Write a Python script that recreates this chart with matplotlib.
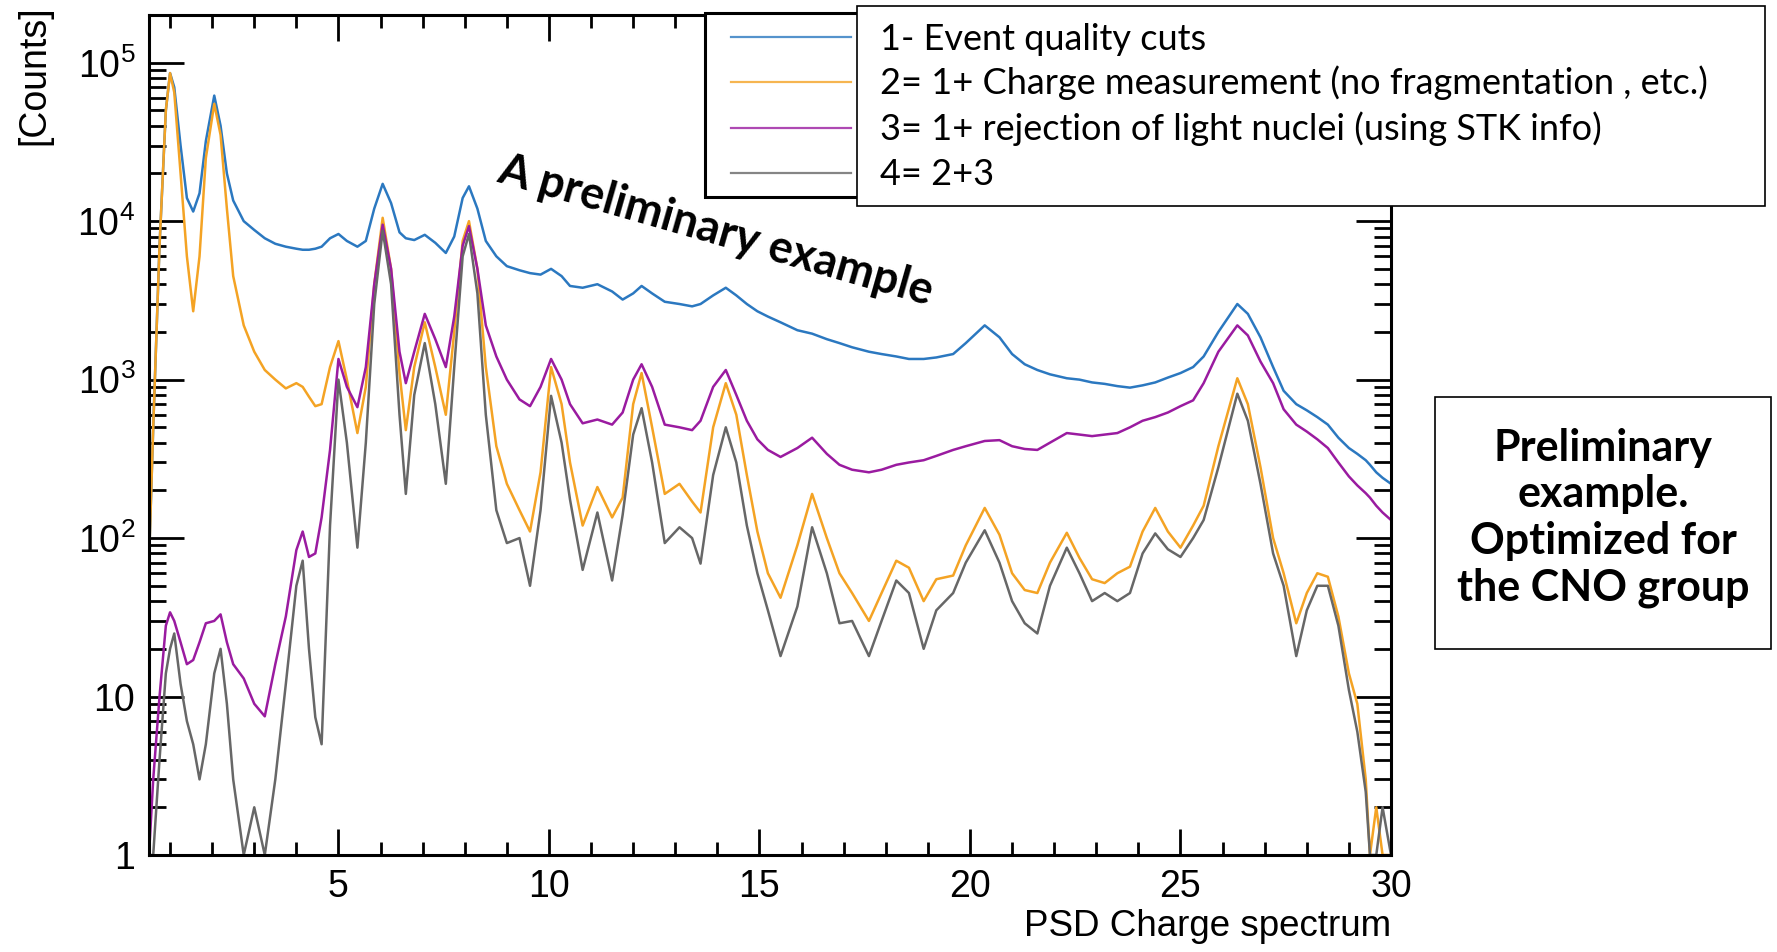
import numpy as np
import matplotlib.pyplot as plt
from matplotlib.patches import Rectangle
from matplotlib.lines import Line2D
from matplotlib.ticker import LogLocator, MultipleLocator, NullFormatter

plt.rcParams['font.family'] = ['Liberation Sans', 'DejaVu Sans']
plt.rcParams['mathtext.fontset'] = 'custom'
plt.rcParams['mathtext.rm'] = 'Liberation Sans'

# PSD charge (x) and counts, one value per node
charge = [0.5, 0.6, 0.75, 0.9, 1.0, 1.1, 1.25, 1.4, 1.55, 1.7,
          1.85, 2.05, 2.2, 2.35, 2.5, 2.75, 3.0, 3.25, 3.5, 3.75,
          4.0, 4.15, 4.3, 4.45, 4.6, 4.8, 5.0, 5.2, 5.45, 5.65,
          5.85, 6.05, 6.25, 6.45, 6.6, 6.8, 7.05, 7.3, 7.55, 7.75,
          7.95, 8.1, 8.3, 8.5, 8.75, 9.0, 9.3, 9.55, 9.8, 10.05,
          10.3, 10.5, 10.8, 11.15, 11.5, 11.75, 12.0, 12.2, 12.45, 12.75,
          13.1, 13.4, 13.6, 13.9, 14.2, 14.45, 14.7, 14.95, 15.2, 15.5,
          15.9, 16.25, 16.6, 16.9, 17.2, 17.6, 17.9, 18.25, 18.55, 18.9,
          19.2, 19.6, 19.9, 20.35, 20.7, 21.0, 21.3, 21.6, 21.9, 22.3,
          22.6, 22.9, 23.2, 23.5, 23.8, 24.1, 24.4, 24.7, 25.0, 25.3,
          25.55, 25.9, 26.35, 26.6, 26.9, 27.2, 27.45, 27.75, 28.0, 28.25,
          28.5, 28.75, 29.0, 29.2, 29.4, 29.5, 29.65, 29.8, 30.0]

counts_quality = [70, 500, 7000, 5e4, 8.6e4, 7e4, 3e4, 1.4e4, 1.15e4, 1.5e4,
                  3.2e4, 6.2e4, 4e4, 2e4, 1.35e4, 1.0e4, 8.8e3, 7.8e3, 7.2e3, 6.9e3,
                  6.7e3, 6.6e3, 6.6e3, 6.7e3, 6.9e3, 7.8e3, 8.3e3, 7.5e3, 6.9e3, 7.5e3,
                  1.2e4, 1.72e4, 1.3e4, 8.5e3, 7.8e3, 7.6e3, 8.2e3, 7.3e3, 6.3e3, 8e3,
                  1.4e4, 1.66e4, 1.2e4, 7.5e3, 6e3, 5.2e3, 4.9e3, 4.7e3, 4.6e3, 5.0e3,
                  4.5e3, 3.9e3, 3.8e3, 4.0e3, 3.6e3, 3.2e3, 3.5e3, 3.9e3, 3.5e3, 3.1e3,
                  3.0e3, 2.9e3, 3.0e3, 3.4e3, 3.8e3, 3.4e3, 3.0e3, 2.7e3, 2.5e3, 2.3e3,
                  2.05e3, 1.95e3, 1.8e3, 1.7e3, 1.6e3, 1.5e3, 1.45e3, 1.4e3, 1.35e3, 1.35e3,
                  1.38e3, 1.45e3, 1.7e3, 2.2e3, 1.85e3, 1.45e3, 1.25e3, 1.15e3, 1.08e3, 1.02e3,
                  1.0e3, 960, 940, 910, 890, 920, 960, 1.03e3, 1.1e3, 1.2e3,
                  1.4e3, 2.0e3, 3.0e3, 2.6e3, 1.85e3, 1.2e3, 850, 700, 640, 580,
                  520, 430, 370, 340, 310, 290, 260, 240, 220]

counts_charge = [70, 500, 7000, 5e4, 8.6e4, 6.5e4, 2.0e4, 6e3, 2.7e3, 6e3,
                 2.5e4, 5.5e4, 3.5e4, 1.2e4, 4.5e3, 2.2e3, 1.5e3, 1.15e3, 1.0e3, 880,
                 950, 900, 780, 680, 700, 1.2e3, 1.75e3, 1.0e3, 460, 900,
                 4e3, 1.05e4, 5e3, 1.1e3, 480, 1.2e3, 2.3e3, 1.2e3, 600, 2e3,
                 7.5e3, 1.0e4, 5e3, 1.2e3, 380, 220, 150, 110, 260, 1.2e3,
                 700, 300, 120, 210, 135, 180, 700, 1.1e3, 500, 190,
                 220, 170, 145, 500, 950, 600, 250, 110, 60, 42,
                 90, 190, 100, 60, 45, 30, 45, 72, 65, 40,
                 55, 58, 90, 155, 105, 60, 47, 45, 70, 108,
                 75, 55, 52, 60, 66, 110, 155, 110, 87, 120,
                 160, 380, 1.02e3, 700, 280, 100, 60, 29, 45, 60,
                 57, 32, 14, 9, 3, 1, 2, 1, 1]

counts_light = [1, 3, 10, 28, 34, 30, 22, 16, 17, 22,
                29, 30, 33, 22, 16, 13, 9, 7.5, 16, 32,
                84, 110, 76, 80, 135, 360, 1.35e3, 900, 670, 1.2e3,
                4e3, 9.5e3, 5e3, 1.5e3, 950, 1.5e3, 2.6e3, 1.8e3, 1.2e3, 2.5e3,
                7e3, 9.3e3, 5e3, 2.2e3, 1.4e3, 1.0e3, 750, 680, 900, 1.35e3,
                1.0e3, 700, 530, 560, 520, 620, 1.0e3, 1.25e3, 900, 520,
                500, 480, 550, 900, 1.15e3, 800, 550, 420, 360, 325,
                370, 430, 340, 290, 270, 260, 270, 290, 300, 310,
                330, 360, 380, 410, 415, 380, 365, 360, 400, 460,
                450, 440, 450, 460, 500, 550, 580, 620, 680, 740,
                950, 1.5e3, 2.2e3, 1.9e3, 1.3e3, 950, 650, 520, 470, 420,
                370, 300, 245, 215, 192, 180, 160, 145, 130]

counts_both = [1, 1, 4, 14, 20, 25, 12, 7, 5, 3,
               5, 14, 20, 9, 3, 1, 2, 1, 3, 12,
               50, 72, 20, 7.4, 5, 120, 1.0e3, 400, 87, 400,
               3e3, 8.7e3, 4e3, 600, 190, 800, 1.7e3, 700, 220, 1.2e3,
               6e3, 8.3e3, 3.5e3, 600, 150, 93, 100, 50, 150, 790,
               400, 175, 63, 145, 54, 140, 450, 660, 300, 93,
               117, 100, 69, 250, 500, 300, 120, 60, 35, 18,
               37, 117, 60, 29, 30, 18, 30, 54, 45, 20,
               35, 45, 70, 112, 70, 40, 29, 25, 50, 87,
               60, 40, 45, 40, 45, 80, 107, 85, 76, 100,
               130, 280, 815, 550, 220, 80, 50, 18, 35, 50,
               50, 28, 11, 6, 2.5, 1, 1, 2, 1]

series_labels = ['1- Event quality cuts',
                 '2= 1+ Charge measurement (no fragmentation , etc.)',
                 '3= 1+ rejection of light nuclei (using STK info)',
                 '4= 2+3']
series_colors = ['#2b78c0', '#f4a324', '#9a1ba0', '#676767']
x_ticks = [5, 10, 15, 20, 25, 30]
y_ticks = [1, 10, 1e2, 1e3, 1e4, 1e5]
y_ticklabels = ['1', '10', r'$\mathregular{10^{2}}$', r'$\mathregular{10^{3}}$',
                r'$\mathregular{10^{4}}$', r'$\mathregular{10^{5}}$']

W, H = 1777, 952


def fx(px):
    return px / W


def fy(py):
    return 1 - py / H


fig = plt.figure(figsize=(W / 100, H / 100), dpi=100, facecolor='white')
ax = fig.add_axes([fx(149), fy(855), (1391 - 149) / W, (855 - 15) / H])

for vals, col in zip([counts_quality, counts_charge, counts_light, counts_both], series_colors):
    ax.plot(charge, vals, color=col, lw=1.8)

ax.set_yscale('log')
ax.set_xlim(0.5, 30)
ax.set_ylim(1, 2e5)
ax.set_xticks(x_ticks)
ax.xaxis.set_minor_locator(MultipleLocator(1))
ax.set_yticks(y_ticks)
ax.set_yticklabels(y_ticklabels)
ax.yaxis.set_minor_locator(LogLocator(base=10, subs=np.arange(2, 10)))
ax.yaxis.set_minor_formatter(NullFormatter())
for s in ax.spines.values():
    s.set_linewidth(2.2)
ax.tick_params(axis='x', which='major', direction='in', length=19, width=2, top=True, labelsize=27, pad=10)
ax.tick_params(axis='x', which='minor', direction='in', length=9.5, width=2, top=True)
ax.tick_params(axis='y', which='major', direction='in', length=25, width=2, right=True, labelsize=27, pad=10)
ax.tick_params(axis='y', which='minor', direction='in', length=12, width=2, right=True)

fig.text(fx(34), fy(5), '[Counts]', rotation=90, ha='center', va='top', fontsize=27)
fig.text(fx(1391), fy(936), 'PSD Charge spectrum', ha='right', va='baseline', fontsize=26.5)

# ROOT legend box, partly hidden by the annotation box
fig.add_artist(Rectangle((fx(705), fy(197)), (1300 - 705) / W, (197 - 13) / H,
                         transform=fig.transFigure, fc='white', ec='black', lw=2.2))
for yy, col in zip([37, 82, 128, 173], series_colors):
    fig.add_artist(Line2D([fx(731), fx(851)], [fy(yy), fy(yy)], color=col, lw=1.6, alpha=0.8))

fig.add_artist(Rectangle((fx(857), fy(206)), (1765 - 857) / W, (206 - 6) / H,
                         transform=fig.transFigure, fc='white', ec='black', lw=1.2))
for yy, lab in zip([50, 94, 140, 185], series_labels):
    fig.text(fx(880), fy(yy), lab, family='Lato', fontsize=26, va='baseline', ha='left')

fig.text(fx(712), fy(243), 'A preliminary example', family='Lato', fontweight='bold',
         fontsize=32.5, rotation=-16, rotation_mode='anchor', ha='center', va='baseline')

fig.add_artist(Rectangle((fx(1435), fy(649)), (1771 - 1435) / W, (649 - 397) / H,
                         transform=fig.transFigure, fc='white', ec='black', lw=1.2))
fig.text(fx(1603), fy(518), 'Preliminary\nexample.\nOptimized for\nthe CNO group',
         family='Lato', fontweight='bold', fontsize=31, ha='center', va='center',
         multialignment='center', linespacing=1.2)

fig.savefig('out.png', dpi=100, facecolor='white')
